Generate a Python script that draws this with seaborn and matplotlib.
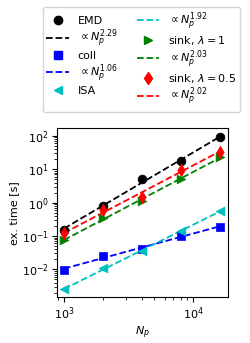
import matplotlib
matplotlib.use("Agg")
import matplotlib.pyplot as plt
import seaborn as sns
import pandas as pd
import numpy as np

# data
n_p = [1000, 2000, 4000, 8000, 16000]
t_emd = [0.155, 0.80, 5.0, 17.5, 90.0]
t_coll = [0.0098, 0.025, 0.042, 0.098, 0.19]
t_isa = [0.0025, 0.0108, 0.035, 0.14, 0.55]
t_sink1 = [0.078, 0.34, 1.1, 5.0, 24.0]
t_sink05 = [0.12, 0.62, 1.45, 9.8, 34.0]

names = ["EMD", "coll", "ISA", r"sink, $\lambda = 1$", r"sink, $\lambda = 0.5$"]
exponents = ["2.29", "1.06", "1.92", "2.03", "2.02"]
colors = ["k", "b", "c", "g", "r"]
markers = ["o", "s", "<", ">", "d"]

plt.rcParams.update({"font.size": 8, "font.family": "DejaVu Sans",
                     "xtick.major.pad": 2.5, "ytick.major.pad": 2.5})
fig = plt.figure(figsize=(2.5, 3.43), dpi=100)
ax = fig.add_axes([0.228, 0.133, 0.684, 0.494])

handles = []
for name, t, k, c, m in zip(names, [t_emd, t_coll, t_isa, t_sink1, t_sink05],
                            exponents, colors, markers):
    df = pd.DataFrame({"Np": n_p, "t": t})
    # power-law fit in log-log space
    coef = np.polyfit(np.log10(df["Np"]), np.log10(df["t"]), 1)
    df["fit"] = 10 ** np.polyval(coef, np.log10(df["Np"]))
    sns.scatterplot(data=df, x="Np", y="t", marker=m, color=c, s=40,
                    edgecolor=c, linewidth=0.5, ax=ax, zorder=3, legend=False)
    sns.lineplot(data=df, x="Np", y="fit", color=c, linestyle="--",
                 linewidth=1.3, ax=ax, zorder=2, legend=False)
    h_pt = plt.Line2D([], [], marker=m, color=c, ls="none", ms=6)
    h_ln = plt.Line2D([], [], color=c, ls="--", lw=1.3)
    handles += [(h_pt, name), (h_ln, r"$\propto N_p^{%s}$" % k)]

ax.set_xscale("log")
ax.set_yscale("log")
ax.set_xlim(883, 18600)
ax.set_ylim(1.45e-3, 174)
ax.set_xlabel(r"$N_p$", labelpad=2)
ax.set_ylabel("ex. time [s]", labelpad=2)

fig.legend([h for h, _ in handles], [l for _, l in handles], ncol=2,
           loc="upper left", bbox_to_anchor=(0.148, 0.997), fontsize=8,
           columnspacing=1.7, handlelength=2.0, labelspacing=0.12,
           borderpad=0.35)

plt.savefig("out.png")
